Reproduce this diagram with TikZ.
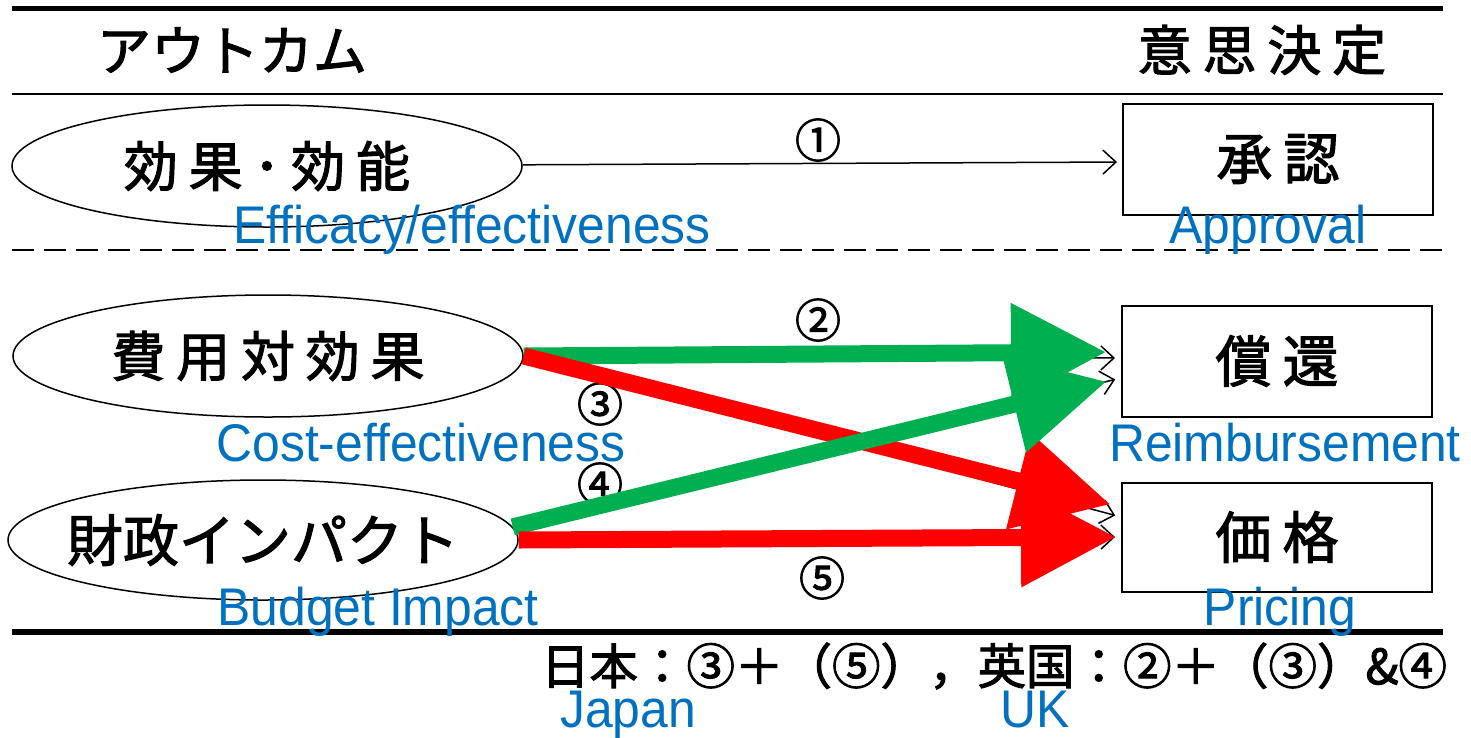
\documentclass[tikz,border=0pt]{standalone}
\usepackage{fontspec}
\setmainfont{Liberation Sans}[FakeStretch=0.94]
\newfontfamily\jpfont{Noto Sans CJK JP}[FakeBold=2]
\newfontfamily\jpwide{Noto Sans CJK JP}[FakeBold=2, LetterSpace=20]
\usepackage{tikz}
\usetikzlibrary{shapes.geometric, arrows.meta, positioning, calc}
\definecolor{enBlue}{RGB}{0, 112, 192}
\definecolor{ukGreen}{RGB}{0, 176, 80}
\definecolor{jpRed}{RGB}{255, 0, 0}

\begin{document}
\begin{tikzpicture}[
    x=1pt, y=-1pt,
    outcome/.style={ellipse, draw, line width=1.5pt, minimum width=510pt, minimum height=122pt, inner sep=0pt},
    jptext/.style={font=\jpwide\fontsize{54}{60}\selectfont, inner sep=0pt},
    decision/.style={rectangle, draw, line width=2pt, minimum width=310pt, minimum height=111pt, font=\jpwide\fontsize{56}{60}\selectfont},
    header/.style={font=\jpfont\fontsize{54}{60}\selectfont, inner sep=0pt},
    num/.style={font=\jpfont\fontsize{46}{52}\selectfont, inner sep=0pt},
    english/.style={font=\fontsize{53}{60}\selectfont, text=enBlue, anchor=base, inner sep=0pt},
    thin/.style={-{Straight Barb[length=13pt, width=24pt]}, line width=1.5pt},
    fat/.style={-{Triangle[length=95pt, width=95pt]}, line width=17pt}
]
    \useasboundingbox (0,0) rectangle (1471,737);

    % Rules
    \draw[line width=5pt] (12,8) -- (1443,8);
    \draw[line width=2pt] (12,94) -- (1443,94);
    \draw[line width=1.5pt, dash pattern=on 22pt off 10pt] (12,250) -- (1443,250);
    \draw[line width=6pt] (12,632) -- (1443,632);

    % Headers
    \node[header] (outcomeHead) at (232,50) {アウトカム};
    \node[header, font=\jpwide\fontsize{54}{60}\selectfont] (decisionHead) at (1262,50) {意思決定};

    % Outcomes
    \node[outcome, label={[jptext]center:効果･効能}] (efficacy) at (267,166) {};
    \node[outcome, label={[jptext]center:費用対効果}] (cost) at (268,356) {};
    \node[outcome, minimum height=120pt, label={[jptext, font=\jpfont\fontsize{56}{60}\selectfont]center:財政インパクト}] (budget) at (263,540) {};

    % Decisions
    \node[decision] (approval) at (1278,159) {承認};
    \node[decision] (reimb) at (1277,361) {償還};
    \node[decision, minimum height=109pt] (price) at (1277,537) {価格};

    % Thin arrows
    \draw[thin, shorten >=5pt] (efficacy) -- ($(approval.west)+(0,3)$);
    \draw[thin, shorten >=6pt] (cost.east) -- ($(reimb.west)+(0,-3)$);
    \draw[thin, shorten >=6pt] (cost.east) -- ($(price.west)+(0,-20)$);
    \draw[thin, shorten >=6pt] (budget.3) -- ($(reimb.west)+(0,17)$);
    \draw[thin, shorten >=6pt] (budget.east) -- (price.west);

    % Numbers
    \node[num] (n1) at (818,140) {①};
    \node[num] (n2) at (818,320) {②};
    \node[num] (n3) at (600,404) {③};
    \node[num] (n4) at (600,484) {④};
    \node[num] (n5) at (822,578) {⑤};

    % Highlight arrows
    \draw[fat, ukGreen, shorten >=15pt] (cost.east) -- ($(reimb.west)+(0,-9)$);
    \draw[fat, jpRed, shorten >=11pt] (cost.east) -- ($(price.west)+(0,-30)$);
    \draw[fat, ukGreen, shorten >=15pt] (budget.3) -- ($(reimb.west)+(0,17)$);
    \draw[fat, jpRed, shorten >=5pt] (budget.east) -- (price.west);

    % Summary
    \node[font=\jpfont\fontsize{48.5}{56}\selectfont, inner sep=0pt] (summary) at (994,666) {日本：③＋（⑤），英国：②＋（③）\&④};

    % English captions
    \node[english] (efficacyEn) at (472,243) {Efficacy/effectiveness};
    \node[english] (approvalEn) at (1268,243) {Approval};
    \node[english] (costEn) at (421,461) {Cost-effectiveness};
    \node[english] (reimbEn) at (1285,461) {Reimbursement};
    \node[english] (budgetEn) at (378,625) {Budget Impact};
    \node[english] (pricingEn) at (1280,625) {Pricing};
    \node[english] (japanEn) at (628,727) {Japan};
    \node[english] (ukEn) at (1035,727) {UK};
\end{tikzpicture}
\end{document}
